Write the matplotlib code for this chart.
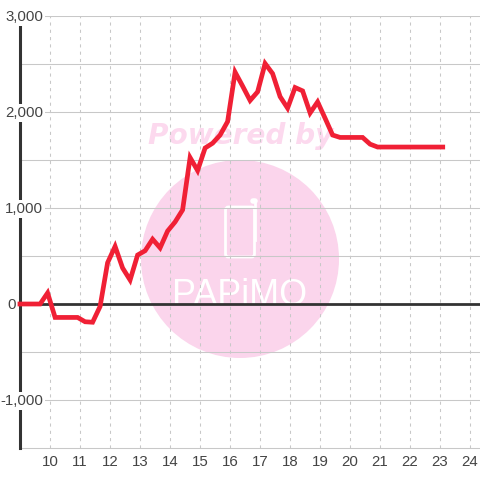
import numpy as np
import matplotlib
matplotlib.use("Agg")
import matplotlib.pyplot as plt
from matplotlib.patches import Circle, FancyBboxPatch

values = [0, 0, 0, 0, 115, -140, -140, -140, -140, -185, -190, -25, 430, 600, 375, 250,
          510, 555, 675, 585, 760, 855, 980, 1525, 1390, 1625, 1675, 1760, 1900, 2415,
          2270, 2120, 2210, 2505, 2400, 2160, 2040, 2255, 2220, 1990, 2105, 1935, 1760,
          1735, 1735, 1735, 1735, 1665, 1635, 1635, 1635, 1635, 1635, 1635, 1635, 1635,
          1635, 1635]
hour_start = 8.92
hour_step = 0.25
hour_ticks = list(range(10, 25))
y_grid = [-1000, -500, 500, 1000, 1500, 2000, 2500, 3000]
y_labels = [-1000, 0, 1000, 2000, 3000]

plt.rcParams['font.family'] = ['Liberation Sans', 'DejaVu Sans']
fig = plt.figure(figsize=(4.8, 4.8), dpi=100, facecolor='white')

# watermark layer in pixel coordinates
bg = fig.add_axes([0, 0, 1, 1], zorder=0)
bg.set_xlim(0, 480); bg.set_ylim(480, 0); bg.axis('off')
pink = '#fbd5ec'
bg.add_patch(Circle((240, 259), 99, fc=pink, ec='none'))
bg.text(240.5, 136, 'Powered by', family='DejaVu Sans', weight='bold', style='oblique',
        fontsize=20.2, color='#fcd9ee', ha='center', va='center')
bg.add_patch(FancyBboxPatch((225.5, 207), 29, 50, boxstyle='round,pad=0,rounding_size=3',
                            fc='none', ec='white', lw=2.0))
bg.plot([252.5, 254.5], [200.5, 200.5], color='white', lw=4, solid_capstyle='round')
bg.plot([254.5, 254.5], [200.5, 240], color='white', lw=2.0)
bg.text(240, 305, 'PAPiMO', family='Liberation Sans',
        fontsize=25.8, color='white', ha='center', va='baseline')

# main axes: pixels 20..480 horizontally, 16..448 vertically
ax = fig.add_axes([20 / 480, 32 / 480, 460 / 480, 432 / 480], zorder=1)
ax.patch.set_alpha(0)
ax.set_xlim(9, 9 + 460 / 30)
ax.set_ylim(-1500, 3000)
for s in ['top', 'right']:
    ax.spines[s].set_visible(False)
ax.spines['left'].set_color('#333333'); ax.spines['left'].set_linewidth(2.2)
ax.spines['left'].set_zorder(3)
ax.spines['bottom'].set_color('#c8c8c8'); ax.spines['bottom'].set_linewidth(0.75)

ax.set_xticks(hour_ticks)
ax.set_xticklabels([str(h) for h in hour_ticks], fontsize=10.8, color='#444444')
ax.tick_params(axis='x', length=0, pad=5)
ax.grid(axis='x', color='#c8c8c8', lw=0.75, ls=(0, (3, 4)), zorder=1)
ax.set_axisbelow(True)
ax.set_yticks(y_grid)
ax.set_yticklabels([])
ax.tick_params(axis='y', length=0)
ax.grid(axis='y', color='#c8c8c8', lw=0.75, ls='-', zorder=1)

ax.axhline(0, color='#333333', lw=2.0, zorder=3)
for v in y_labels:
    off = -3 if v == 0 else 16.7
    ax.annotate(f'{v:,}', xy=(0, v), xycoords=('axes fraction', 'data'), xytext=(off, -0.7),
                textcoords='offset points', ha='right', va='center', fontsize=10.8, color='#444444',
                zorder=4, annotation_clip=False,
                bbox=dict(fc='white', ec='none', pad=1.2))

hours = hour_start + hour_step * np.arange(len(values))
ax.plot(hours, values, color='#f02035', lw=3.4, solid_joinstyle='miter', solid_capstyle='butt',
        clip_on=False, zorder=5)

fig.savefig('out.png', dpi=100)
